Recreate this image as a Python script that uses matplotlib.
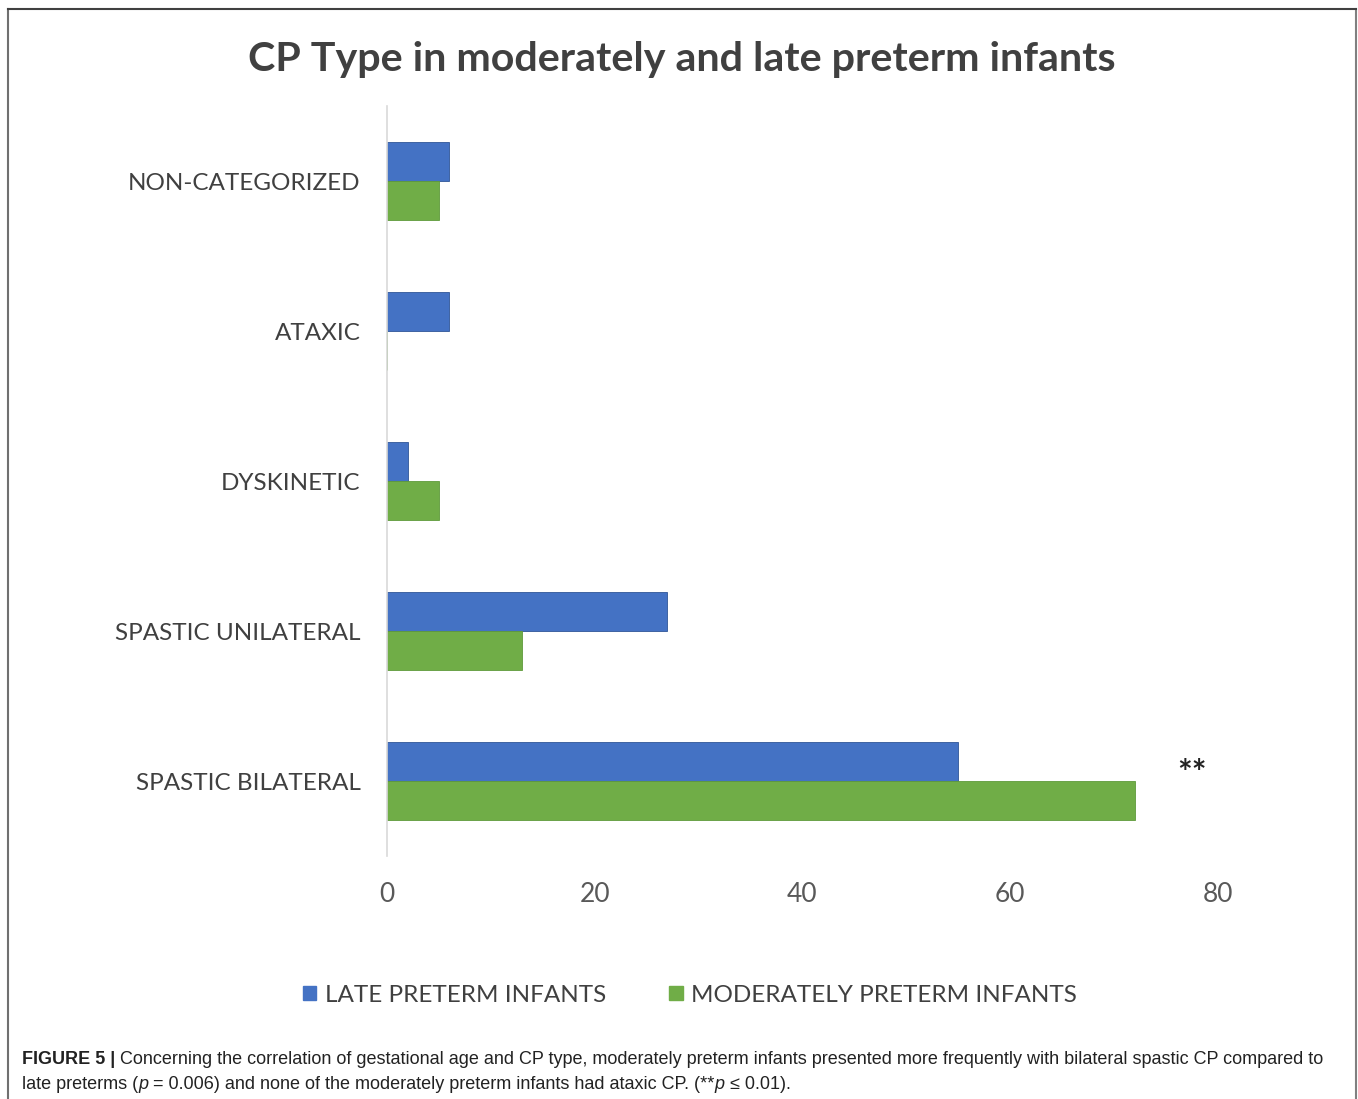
import matplotlib
matplotlib.use("Agg")
import matplotlib.pyplot as plt
from matplotlib.lines import Line2D
from matplotlib.patches import Patch

# data
categories = ["NON-CATEGORIZED", "ATAXIC", "DYSKINETIC",
              "SPASTIC UNILATERAL", "SPASTIC BILATERAL"]
late_preterm = [6, 6, 2, 27, 55]
moderately_preterm = [5, 0, 5, 13, 72]
x_ticks = [0, 20, 40, 60, 80]
series_names = ["LATE PRETERM INFANTS", "MODERATELY PRETERM INFANTS"]

W, H = 1358, 1099
fig = plt.figure(figsize=(W / 100, H / 100), dpi=100)
fig.patch.set_facecolor("white")

chart_font = ["Lato", "DejaVu Sans"]
cap_font = ["Liberation Sans", "DejaVu Sans"]

def px(x, y):
    return x / W, 1 - y / H

# frame around the figure panel
fig.add_artist(Line2D([px(8, 0)[0]] * 2, [px(0, 9)[1], 0], color="#707070", lw=1.5))
fig.add_artist(Line2D([px(1356, 0)[0]] * 2, [px(0, 9)[1], 0], color="#808080", lw=1.5))
fig.add_artist(Line2D([px(8, 0)[0], px(1356, 0)[0]], [px(0, 9)[1]] * 2, color="#404040", lw=1.5))

left, right = 387, 1218
top, bottom = 106, 856
ax = fig.add_axes([left / W, 1 - bottom / H, (right - left) / W, (bottom - top) / H])

blue, green = "#4472C4", "#70AD47"
h = 0.257
pos = list(range(len(categories)))
ax.barh([p - h / 2 for p in pos], late_preterm, height=h, color=blue,
        edgecolor="#2F5597", linewidth=0.6, label=series_names[0])
ax.barh([p + h / 2 for p in pos], moderately_preterm, height=h, color=green,
        edgecolor="#5E9A3A", linewidth=0.6, label=series_names[1])

ax.set_xlim(0, 80)
ax.set_ylim(len(categories) - 0.5, -0.5)
ax.set_yticks(pos)
ax.set_yticklabels(categories, fontsize=17.5, color="#404040", family=chart_font)
ax.set_xticks(x_ticks)
ax.set_xticklabels([str(t) for t in x_ticks], fontsize=19, color="#595959", family=chart_font)
ax.tick_params(axis="y", length=0, pad=19)
ax.tick_params(axis="x", length=0, pad=19)
for s in ["top", "right", "bottom"]:
    ax.spines[s].set_visible(False)
ax.spines["left"].set_color("#D9D9D9")
ax.spines["left"].set_linewidth(1.2)

ax.text(77.5, 3.95, "**", ha="center", va="center", fontsize=25,
        color="#222222", fontweight="bold", family=chart_font)

fig.text(px(682, 0)[0], px(0, 60)[1], "CP Type in moderately and late preterm infants",
         ha="center", va="center", fontsize=29.7, fontweight="bold",
         color="#404040", family=chart_font)

handles = [Patch(facecolor=blue, edgecolor=blue), Patch(facecolor=green, edgecolor=green)]
fig.legend(handles, series_names, loc="center", bbox_to_anchor=px(690, 995),
           ncol=2, frameon=False, handlelength=0.55, handleheight=0.55,
           handletextpad=0.35, columnspacing=2.6,
           prop={"family": chart_font, "size": 17.5})
for t in fig.legends[0].get_texts():
    t.set_color("#404040")

# caption with mixed styles
def rich_line(x0, y0, pieces, size=13.0):
    renderer = fig.canvas.get_renderer()
    x = x0
    for s, style in pieces:
        kw = dict(fontsize=size, color="#222222", family=cap_font, va="baseline", ha="left")
        if style == "b":
            kw["fontweight"] = "bold"
        elif style == "i":
            kw["fontstyle"] = "italic"
        t = fig.text(x / W, 1 - y0 / H, s, **kw)
        bb = t.get_window_extent(renderer=renderer)
        x += bb.width

rich_line(22, 1064, [("FIGURE 5 | ", "b"),
                     ("Concerning the correlation of gestational age and CP type, moderately preterm "
                      "infants presented more frequently with bilateral spastic CP compared to", "n")])
rich_line(22, 1089, [("late preterms (", "n"), ("p", "i"),
                     (" = 0.006) and none of the moderately preterm infants had ataxic CP. (**", "n"),
                     ("p", "i"), (" \u2264 0.01).", "n")])

fig.savefig("out.png", dpi=100, facecolor="white")
